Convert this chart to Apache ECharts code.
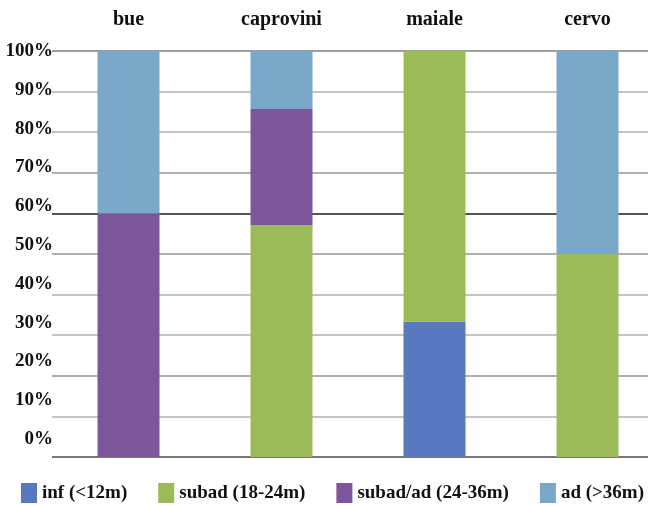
<!DOCTYPE html>
<html>
<head>
<meta charset="utf-8">
<script src="https://cdn.jsdelivr.net/npm/echarts@6/dist/echarts.min.js"></script>
<style>
  html, body { margin: 0; padding: 0; background: #fff; }
  #chart { width: 648px; height: 505px; }
</style>
</head>
<body>
<div id="chart"></div>
<script>
// categories and series (percent of each column)
const categories = ["bue", "caprovini", "maiale", "cervo"];
const seriesNames = ["inf (<12m)", "subad (18-24m)", "subad/ad (24-36m)", "ad (>36m)"];
const infData = [0, 0, 33.3, 0];
const subadData = [0, 57.1, 66.7, 50];
const subadAdData = [60, 28.6, 0, 0];
const adData = [40, 14.3, 0, 50];
const yTicks = [0, 10, 20, 30, 40, 50, 60, 70, 80, 90, 100];

const colors = ["#5a78bf", "#9bbb59", "#7d559b", "#79a8c8"];
const font = "'Liberation Serif', serif";

const chart = echarts.init(document.getElementById("chart"));

// line colours, from 0% upward (60% line is darker in the original)
const lineColors = ["#777", "#c4c4c4", "#b0b0b0", "#c4c4c4", "#c4c4c4", "#b0b0b0", "#555", "#b0b0b0", "#c4c4c4", "#c4c4c4", "#a0a0a0"];

const allData = [infData, subadData, subadAdData, adData];
const series = seriesNames.map(function (name, i) {
  return {
    name: name,
    type: "bar",
    stack: "total",
    barWidth: 62,
    xAxisIndex: 0,
    yAxisIndex: 0,
    itemStyle: { color: colors[i] },
    data: allData[i],
  };
});

const option = {
  animation: false,
  backgroundColor: "#fff",
  textStyle: { fontFamily: font },
  grid: [
    // wider than the canvas on the right, like the original
    { left: 52, width: 612, top: 51, bottom: 48, outerBoundsMode: "none" },
    // labels only: the original's tick labels drift from the grid lines
    { left: 55, right: 0, top: 51, bottom: 66, outerBoundsMode: "none" },
  ],
  legend: {
    data: seriesNames,
    left: 21,
    top: 483,
    width: 640,
    padding: 0,
    icon: "rect",
    itemWidth: 16,
    itemHeight: 20,
    itemGap: 31,
    textStyle: { fontFamily: font, fontWeight: "bold", fontSize: 19, color: "#111" },
  },
  xAxis: [
    {
      type: "category",
      gridIndex: 0,
      position: "top",
      data: categories,
      axisLine: { show: false },
      axisTick: { show: false },
      axisLabel: { margin: 21, fontFamily: font, fontWeight: "bold", fontSize: 20, color: "#111" },
    },
    { type: "category", gridIndex: 1, show: false, data: categories },
  ],
  yAxis: [
    {
      type: "value",
      gridIndex: 0,
      min: 0,
      max: 100,
      interval: 10,
      axisLabel: { show: false },
      axisLine: { show: false },
      axisTick: { show: false },
      splitLine: { show: true, lineStyle: { color: lineColors, width: 2 } },
    },
    {
      type: "value",
      gridIndex: 1,
      min: yTicks[0],
      max: yTicks[yTicks.length - 1],
      interval: 10,
      axisLine: { show: false },
      axisTick: { show: false },
      splitLine: { show: false },
      axisLabel: {
        margin: 2,
        formatter: "{value}%",
        fontFamily: font,
        fontWeight: "bold",
        fontSize: 19,
        color: "#111",
      },
    },
  ],
  series: series,
};

chart.setOption(option);
window.addEventListener("resize", function () {
  chart && chart.resize();
});
</script>
</body>
</html>
